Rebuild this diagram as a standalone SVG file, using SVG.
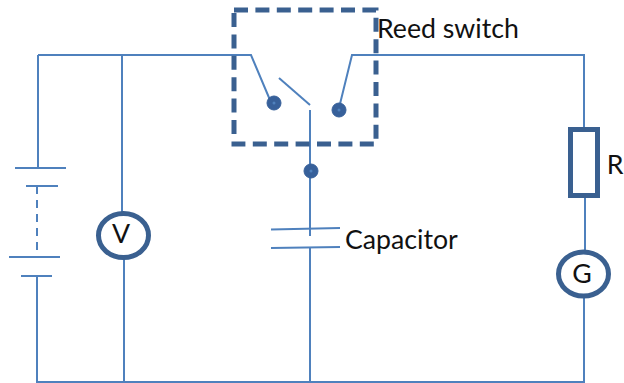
<svg xmlns="http://www.w3.org/2000/svg" width="624" height="383" viewBox="0 0 624 383">
<style>
.w{fill:none;stroke:#4f81bd;stroke-width:2}
.h{fill:none;stroke:#3a6090;stroke-width:5}
.d{fill:#37609a;stroke:#37609a;stroke-width:1}
.c{fill:#4f81bd}
.t{font-family:Lato,"Liberation Sans",sans-serif;font-size:26.700px;fill:#111}
</style>
<rect width="624" height="383" fill="#fff"/>
<g id="connectors">
<path class="w" d="M38 55H251L270 100"/>
<path class="w" d="M339 108L352 55H584V129"/>
<path class="w" d="M279 78L310 105"/>
<path class="w" d="M310 110V236"/>
<path class="w" d="M310 248V381"/>
<path class="w" d="M38 55V168"/>
<path class="w" d="M37 276V382H585"/>
<path class="w" d="M122 55V212"/>
<path class="w" d="M124 258V382"/>
<path class="w" d="M585 198V250"/>
<path class="w" d="M584 298V382"/>
<path class="w" d="M37 186V257" stroke-dasharray="8 6"/>
</g>
<g id="battery">
<path class="w" d="M15 168H66M26 186H58M9 257H60M21 276H52"/>
</g>
<g id="reed-switch">
<path class="h" d="M234 10H376V144H234V10" stroke-dasharray="14 7.400"/>
<circle class="d" cx="274" cy="103" r="7"/>
<circle class="c" cx="274" cy="103" r="1.500"/>
<circle class="d" cx="339" cy="110" r="7"/>
<circle class="c" cx="339" cy="110" r="1.500"/>
<text class="t" x="377" y="38">Reed switch</text>
</g>
<g id="junction">
<circle class="d" cx="311" cy="171" r="7"/>
<circle class="c" cx="311" cy="171" r="1.500"/>
</g>
<g id="capacitor">
<path class="w" d="M271 229.500L340 228M271 248L340 247"/>
<text class="t" x="345" y="249">Capacitor</text>
</g>
<g id="voltmeter">
<ellipse class="h" cx="123.500" cy="235.500" rx="25" ry="22"/>
<text class="t" x="121" y="243" text-anchor="middle">V</text>
</g>
<g id="resistor">
<rect class="h" x="570.500" y="129.500" width="27" height="66"/>
<text class="t" x="623.500" y="174" text-anchor="end">R</text>
</g>
<g id="galvanometer">
<ellipse class="h" cx="583.500" cy="274" rx="25" ry="22"/>
<text class="t" x="582" y="283" text-anchor="middle">G</text>
</g>
</svg>
